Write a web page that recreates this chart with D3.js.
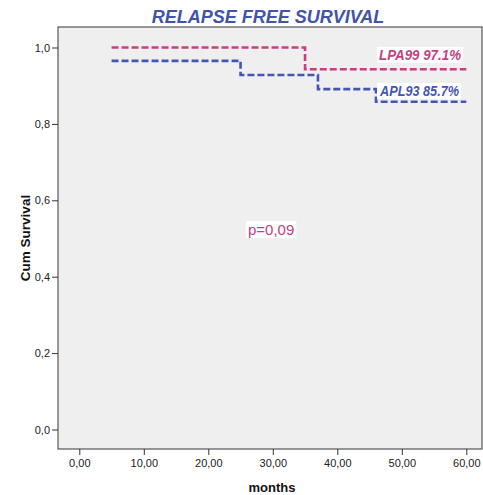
<!DOCTYPE html>
<meta charset="utf-8">
<style>
body { margin: 0; background: #fff; }
svg { display: block; }
.tick text { font: 11px "Liberation Sans", Arial, sans-serif; fill: #222; }
.tick line { stroke: #333; }
.domain { display: none; }
</style>
<svg width="483" height="495"></svg>
<script src="https://cdn.jsdelivr.net/npm/d3@7/dist/d3.min.js"></script>
<script>

// Kaplan-Meier step data (months, survival)
var lpaMonths = [5, 35, 60];
var lpaSurv   = [1.0, 0.943, 0.943];
var aplMonths = [5, 25, 37, 46, 60];
var aplSurv   = [0.965, 0.928, 0.891, 0.858, 0.858];

var xTicks = [0, 10, 20, 30, 40, 50, 60];
var yTicks = [0, 0.2, 0.4, 0.6, 0.8, 1.0];

var series = [
  {name: "LPA99 97.1%", months: lpaMonths, surv: lpaSurv, color: "#c4407f"},
  {name: "APL93 85.7%", months: aplMonths, surv: aplSurv, color: "#4456b2"}
];

var svg = d3.select("svg"),
    pLeft = 58, pRight = 482, pTop = 27, pBottom = 449;

var x = d3.scaleLinear().domain([0, 60]).range([79.3, 466.3]);
var y = d3.scaleLinear().domain([0, 1]).range([429.5, 47.5]);

svg.append("rect")
    .attr("x", pLeft).attr("y", pTop)
    .attr("width", pRight - pLeft).attr("height", pBottom - pTop)
    .attr("fill", "#efefef")
    .attr("stroke", "#555").attr("stroke-width", 1.2);

var fmtX = function(d) { return d3.format(".2f")(d).replace(".", ","); };
var fmtY = function(d) { return d3.format(".1f")(d).replace(".", ","); };

svg.append("g")
    .attr("transform", "translate(0," + pBottom + ")")
    .call(d3.axisBottom(x).tickValues(xTicks).tickFormat(fmtX).tickSize(6).tickPadding(4));

svg.append("g")
    .attr("transform", "translate(" + pLeft + ",0)")
    .call(d3.axisLeft(y).tickValues(yTicks).tickFormat(fmtY).tickSize(6).tickPadding(2));

var line = d3.line()
    .x(function(d) { return x(d[0]); })
    .y(function(d) { return y(d[1]); })
    .curve(d3.curveStepAfter);

series.forEach(function(s) {
  var pts = s.months.map(function(m, i) { return [m, s.surv[i]]; });
  svg.append("path")
      .attr("d", line(pts))
      .attr("fill", "none")
      .attr("stroke", s.color)
      .attr("stroke-width", 2.6)
      .attr("stroke-dasharray", "7,3");
});

// labels with white boxes
function boxedText(tx, ty, str, color, font, len) {
  var t = svg.append("text")
      .attr("x", tx).attr("y", ty)
      .attr("fill", color)
      .style("font", font)
      .text(str);
  if (len) t.attr("textLength", len).attr("lengthAdjust", "spacingAndGlyphs");
  var b = t.node().getBBox();
  svg.insert("rect", function() { return t.node(); })
      .attr("x", b.x - 2).attr("y", b.y)
      .attr("width", b.width + 4).attr("height", b.height)
      .attr("fill", "#fff");
}

var labFont = "italic bold 14.5px 'Liberation Sans', Arial, sans-serif";
boxedText(379, 60, series[0].name, series[0].color, labFont, 82);
boxedText(380, 96, series[1].name, series[1].color, labFont, 79);
boxedText(248, 235, "p=0,09", "#c4407f", "15px 'Liberation Sans', Arial, sans-serif");

svg.append("text")
    .attr("x", 268).attr("y", 23)
    .attr("text-anchor", "middle")
    .attr("fill", "#4254a8")
    .style("font", "italic bold 18px 'Liberation Sans', Arial, sans-serif")
    .text("RELAPSE FREE SURVIVAL");

svg.append("text")
    .attr("x", 272).attr("y", 492)
    .attr("text-anchor", "middle")
    .attr("fill", "#111")
    .style("font", "bold 13px 'Liberation Sans', Arial, sans-serif")
    .text("months");

svg.append("text")
    .attr("transform", "translate(30,238) rotate(-90)")
    .attr("text-anchor", "middle")
    .attr("fill", "#111")
    .style("font", "bold 13.5px 'Liberation Sans', Arial, sans-serif")
    .text("Cum Survival");

</script>
